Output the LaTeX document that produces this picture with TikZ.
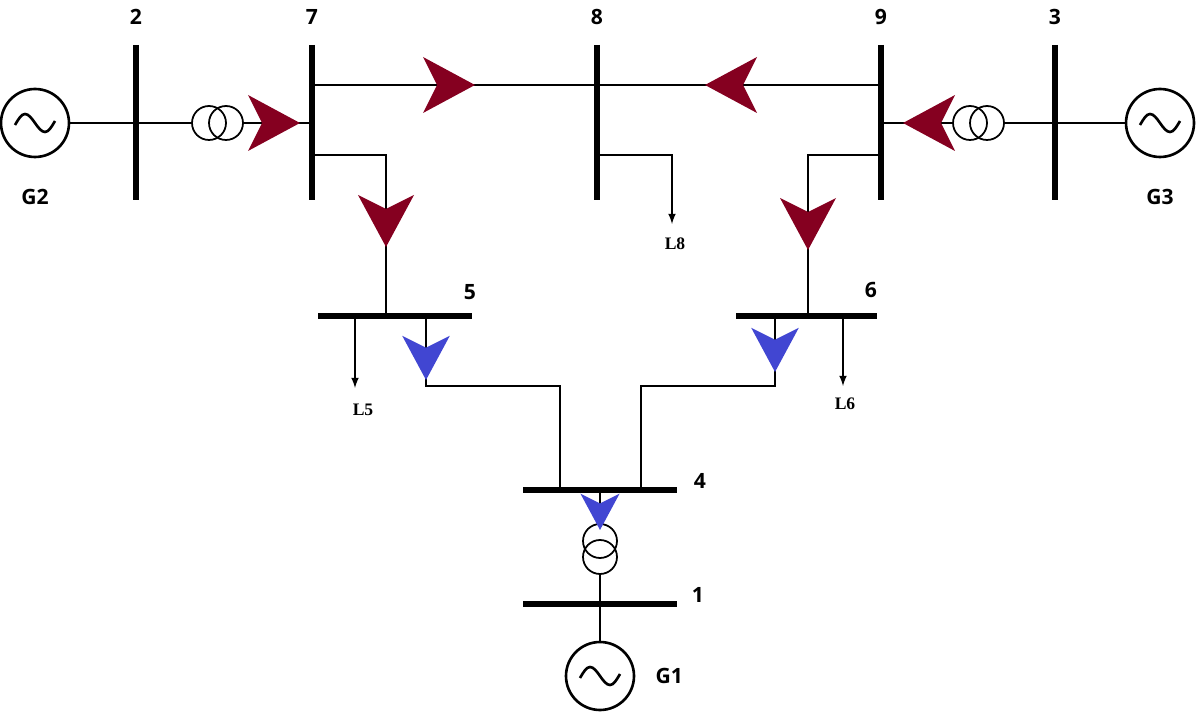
\documentclass[tikz,border=0pt]{standalone}
\usepackage{fontspec}
\setmainfont{Open Sans}
\newfontfamily\ldfont{Liberation Serif}
\usetikzlibrary{arrows,positioning}
\definecolor{flowred}{HTML}{850020}
\definecolor{flowblue}{HTML}{4146D2}
\tikzset{
	bus/.style={line width=3.4pt},
	wire/.style={line width=1pt},
	load/.style={line width=1pt, -latex},
	gen/.style={draw, circle, line width=1.5pt, minimum size=1.36cm, inner sep=0pt},
	trafo/.style={draw, circle, line width=1pt, minimum size=0.68cm, inner sep=0pt},
	num/.style={font=\bfseries\large},
	ld/.style={font=\ldfont\bfseries},
	flow/.pic={\fill (0,0) -- (-52,-28) -- (-38,0) -- (-52,28) -- cycle;}
}
\newcommand{\sinewave}[1]{\draw[line width=1.5pt] ($(#1)+(-20,2)$) sin ($(#1)+(-10,-9)$) cos ($(#1)+(0,0)$) sin ($(#1)+(10,9)$) cos ($(#1)+(20,-2)$);}
\usetikzlibrary{calc}
\begin{document}
\begin{tikzpicture}[x=0.02cm, y=-0.02cm]
	\useasboundingbox (0,0) rectangle (1196,715);
	
	% vertical buses
	\coordinate (B2t) at (136,45); \coordinate (B2b) at (136,200);
	\coordinate (B7t) at (312,45); \coordinate (B7b) at (312,200);
	\coordinate (B8t) at (597,45); \coordinate (B8b) at (597,200);
	\coordinate (B9t) at (881,45); \coordinate (B9b) at (881,200);
	\coordinate (B3t) at (1055,45); \coordinate (B3b) at (1055,200);
	\foreach \b in {2,7,8,9,3} \draw[bus] (B\b t) -- (B\b b);
	\node[num, above=8pt of B2t](N2){2};
	\node[num, above=8pt of B7t](N7){7};
	\node[num, above=8pt of B8t](N8){8};
	\node[num, above=8pt of B9t](N9){9};
	\node[num, above=8pt of B3t](N3){3};
	
	% horizontal buses
	\coordinate (B5l) at (318,316); \coordinate (B5r) at (472,316);
	\coordinate (B6l) at (736,316); \coordinate (B6r) at (877,316);
	\coordinate (B4l) at (523,490); \coordinate (B4r) at (677,490);
	\coordinate (B1l) at (523,604); \coordinate (B1r) at (677,604);
	\foreach \b in {5,6,4,1} \draw[bus] (B\b l) -- (B\b r);
	\node[num] at (470,292)(N5){5};
	\node[num] at (871,290)(N6){6};
	\node[num] at (700,481)(N4){4};
	\node[num] at (698,595)(N1){1};
	
	% generators
	\node[gen] at (35,123)(G2){};
	\node[gen] at (1160,123)(G3){};
	\node[gen] at (600,676)(G1){};
	\sinewave{G2} \sinewave{G3} \sinewave{G1}
	\node[num, below=14pt of G2](LG2){G2};
	\node[num, below=14pt of G3](LG3){G3};
	\node[num, right=8pt of G1](LG1){G1};
	
	% transformers
	\node[trafo] at (209,123)(T2a){};
	\node[trafo] at (226,123)(T2b){};
	\node[trafo] at (970,123)(T3a){};
	\node[trafo] at (987,123)(T3b){};
	\node[trafo] at (600,541)(T1a){};
	\node[trafo] at (600,557)(T1b){};
	
	\coordinate (B2m) at (136,123); \coordinate (B7m) at (312,123);
	\coordinate (B3m) at (1055,123); \coordinate (B9m) at (881,123);
	\draw[wire] (G2) -- (B2m) -- (T2a);
	\draw[wire] (T2b) -- (B7m);
	\draw[wire] (G3) -- (B3m) -- (T3b);
	\draw[wire] (T3a) -- (B9m);
	\coordinate (B4m) at (600,490); \coordinate (B1m) at (600,604);
	\draw[wire] (B4m) -- (T1a);
	\draw[wire] (T1b) -- (B1m) -- (G1);
	
	% lines
	\coordinate (L78a) at (312,85); \coordinate (L78b) at (597,85);
	\coordinate (L98b) at (881,85);
	\draw[wire] (L78a) -- (L78b) -- (L98b);
	\coordinate (L75a) at (312,155); \coordinate (L75c) at (386,155); \coordinate (L75b) at (386,316);
	\draw[wire] (L75a) -- (L75c) -- (L75b);
	\coordinate (L96a) at (881,155); \coordinate (L96c) at (808,155); \coordinate (L96b) at (808,316);
	\draw[wire] (L96a) -- (L96c) -- (L96b);
	\coordinate (L54a) at (426,316); \coordinate (L54c) at (426,386);
	\coordinate (L54d) at (560,386); \coordinate (L54b) at (560,490);
	\draw[wire] (L54a) -- (L54c) -- (L54d) -- (L54b);
	\coordinate (L64a) at (775,316); \coordinate (L64c) at (775,386);
	\coordinate (L64d) at (641,386); \coordinate (L64b) at (641,490);
	\draw[wire] (L64a) -- (L64c) -- (L64d) -- (L64b);
	
	% loads
	\coordinate (D5a) at (355,316); \coordinate (D5b) at (355,388);
	\coordinate (D6a) at (843,316); \coordinate (D6b) at (843,386);
	\coordinate (D8a) at (597,155); \coordinate (D8c) at (672,155); \coordinate (D8b) at (672,224);
	\draw[load] (D5a) -- (D5b);
	\draw[load] (D6a) -- (D6b);
	\draw[load] (D8a) -- (D8c) -- (D8b);
	\node[ld] at (363,410)(L5){L5};
	\node[ld] at (845,404)(L6){L6};
	\node[ld] at (675,244)(L8){L8};
	
	% power flow
	\pic[flowred] at (300,123) {flow};
	\pic[flowred] at (475,85) {flow};
	\pic[flowred, rotate=180] at (705,85) {flow};
	\pic[flowred, rotate=180] at (903,123) {flow};
	\pic[flowred, rotate=-90] at (386,247) {flow};
	\pic[flowred, rotate=-90] at (808,250) {flow};
	\pic[flowblue, rotate=-90, scale=0.85] at (426,380) {flow};
	\pic[flowblue, rotate=-90, scale=0.85] at (775,372) {flow};
	\pic[flowblue, rotate=-90, scale=0.7] at (600,530) {flow};
\end{tikzpicture}
\end{document}
